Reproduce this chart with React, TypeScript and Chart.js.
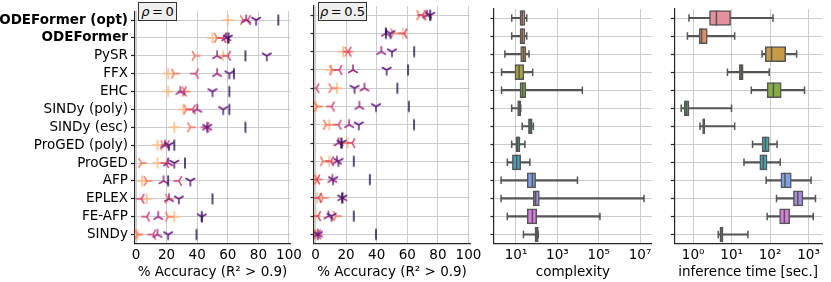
import React, { useEffect, useRef } from "react";
import { Chart, registerables } from "chart.js";
Chart.register(...registerables);

const FONT = "'DejaVu Sans', 'Noto Sans', sans-serif";
const GRID = "#cccccc";
const SPINE = "#262626";
const EDGE = "#555555";

const methods = [
  "ODEFormer (opt)", "ODEFormer", "PySR", "FFX", "EHC", "SINDy (poly)", "SINDy (esc)",
  "ProGED (poly)", "ProGED", "AFP", "EPLEX", "FE-AFP", "SINDy",
];
const accTicks = [0, 20, 40, 60, 80, 100];
const complexityTicks = [1e1, 1e3, 1e5, 1e7];
const timeTicks = [1e0, 1e1, 1e2, 1e3];

// % accuracy, rho = 0 (one array per marker series)
const acc0Plus = [60, 50, 57, 21, 21, 31, 25, 14, 14, 4, 7, 25, 1];
const acc0TriRight = [70, 53, 38.5, 25, 32, 33, 35.5, 18, 3.5, 7, 21, 21, 1];
const acc0TriLeft = [73, 57, 60, 39, 31, 37, 46, 20, 19.5, 28, 3.5, 7, 11];
const acc0TriUp = [72, 59, 53, 53, 29, 40, 46.5, 19, 21, 18, 21.5, 14.5, 14];
const acc0TriDown = [78.5, 60, 85.5, 61, 50, 57, 46.5, 21.5, 25, 35.5, 28, 43, 21];
const acc0Bar = [93, 60.5, 71.5, 64, 61, 61, 71.5, 25, 32, 21, 50, 43, 39.5];

// % accuracy, rho = 0.5
const acc5Plus = [72, 57, 18, 10, 14, 0, 9, 21, 9, 0, 1, 0, 0];
const acc5TriRight = [68, 51, 21, 11, 10.5, 1, 7, 18, 5, 1, 5, 13.5, 1];
const acc5TriLeft = [70, 58, 21.5, 15.5, 0.5, 10.5, 15, 24, 10, 1, 2, 1.5, 1.5];
const acc5TriUp = [73, 46, 43, 24.5, 32, 28.7, 22, 15, 14, 11, 17.5, 8.5, 1.5];
const acc5TriDown = [75, 49, 50, 46.5, 25.5, 39.5, 28.3, 17, 15, 11.5, 17.5, 10.5, 1.5];
const acc5Bar = [75, 46, 64.5, 60.5, 53.5, 61, 64.4, 17, 25, 35.5, 17.5, 25, 39.5];

// complexity box plots
const cxMin = [6.2, 6.2, 2.9, 2.0, 2.0, 6.2, 20, 6.2, 3.8, 1.9, 1.9, 3.8, 23];
const cxQ1 = [15.6, 15.6, 16.8, 8.9, 15.6, 12, 40, 10, 6.7, 35, 69, 35, 83];
const cxMed = [20, 20, 22.7, 14, 21, 14.5, 48, 12, 10.8, 62, 89, 62, 100];
const cxQ3 = [27, 27, 30, 24, 30, 17, 61, 15.6, 16.8, 89, 135, 100, 120];
const cxMax = [33, 33, 42.6, 64, 16200, 17, 69, 27, 47, 9400, 1.55e7, 115000, 120];

// inference time box plots [sec.]
const tMin = [0.78, 0.71, 62, 7.8, 32.5, 0.49, 1.51, 35, 21, 79, 147, 84, 4.5];
const tQ1 = [2.66, 1.43, 75, 15.9, 84, 0.59, 1.76, 62, 54, 191, 405, 177, 4.96];
const tMed = [4.03, 1.66, 109, 17.8, 122, 0.67, 1.9, 76, 66.5, 244, 526, 235, 5.34];
const tQ3 = [9.4, 2.33, 254, 20, 195, 0.78, 2.0, 95, 83.5, 356, 714, 324, 5.98];
const tMax = [119, 12, 490, 95, 785, 9.95, 12, 152, 184, 1165, 1515, 1325, 26.5];

const markerKinds = ["plus", "triRight", "triLeft", "triUp", "triDown", "vline"];
const markerColors = ["#febb81", "#f8765c", "#d3436e", "#982d80", "#5f187f", "#221150"];
const boxColors = [
  "#e3919d", "#da9067", "#c59b47", "#a9a23e", "#86ac44", "#4bae72", "#48ab93",
  "#47a9a4", "#4aa5ba", "#7fa1e2", "#a78ee2", "#d67ddf", "#e07cc0",
];

const SUP = ["⁰", "¹", "²", "³", "⁴", "⁵", "⁶", "⁷", "⁸"];

function makeMarker(kind: string, color: string): HTMLCanvasElement {
  const c = document.createElement("canvas");
  c.width = 16;
  c.height = 16;
  const g = c.getContext("2d")!;
  g.translate(8, 8);
  g.strokeStyle = color;
  g.lineWidth = 1.5;
  const r = 5.5;
  const arms: number[][] = [];
  const s = 0.8660254;
  if (kind === "plus") arms.push([-r, 0, r, 0], [0, -r, 0, r]);
  else if (kind === "vline") arms.push([0, -r, 0, r]);
  else {
    let dirs: number[][] = [];
    if (kind === "triDown") dirs = [[0, 1], [s, -0.5], [-s, -0.5]];
    if (kind === "triUp") dirs = [[0, -1], [s, 0.5], [-s, 0.5]];
    if (kind === "triLeft") dirs = [[-1, 0], [0.5, s], [0.5, -s]];
    if (kind === "triRight") dirs = [[1, 0], [-0.5, s], [-0.5, -s]];
    dirs.forEach((d) => arms.push([0, 0, d[0] * r, d[1] * r]));
  }
  g.beginPath();
  arms.forEach((a) => {
    g.moveTo(a[0], a[1]);
    g.lineTo(a[2], a[3]);
  });
  g.stroke();
  return c;
}

function yAxis(width: number, showLabels: boolean) {
  return {
    type: "category",
    labels: methods,
    offset: true,
    grid: { color: GRID, lineWidth: 1, offset: false, drawTicks: true, tickLength: 3.5, tickColor: SPINE, tickWidth: 1.2 },
    border: { display: true, color: SPINE, width: 1.2 },
    ticks: {
      display: showLabels,
      color: "#000",
      padding: 3,
      autoSkip: false,
      font: (ctx: any) => ({ family: FONT, size: 13.5, weight: ctx.index < 2 ? "bold" : "normal" }),
    },
    afterFit: (s: any) => {
      s.width = width;
    },
  };
}

function xCommon(title: string) {
  return {
    grid: { color: GRID, lineWidth: 1, drawTicks: false },
    border: { display: true, color: SPINE, width: 1.2 },
    title: { display: true, text: title, color: "#000", font: { family: FONT, size: 13.5 }, padding: { top: 0, bottom: 1.5 } },
    afterFit: (s: any) => {
      s.height = 38.5;
    },
  };
}

function accConfig(series: number[][], padL: number, yW: number, padR: number, showLabels: boolean, markers: HTMLCanvasElement[]) {
  return {
    type: "scatter",
    data: {
      datasets: series.map((vals, k) => ({
        data: vals.map((v, i) => ({ x: v, y: methods[i] })),
        pointStyle: markers[k],
        pointRadius: 5,
        pointHoverRadius: 5,
        showLine: false,
        order: 6 - k,
      })),
    },
    options: {
      responsive: false,
      animation: false,
      devicePixelRatio: 1,
      events: [],
      layout: { padding: { left: padL, right: padR, top: 0.5, bottom: 0 } },
      plugins: { legend: { display: false }, tooltip: { enabled: false } },
      scales: {
        x: {
          type: "linear",
          min: -1,
          max: 101,
          bounds: "data",
          afterBuildTicks: (s: any) => {
            s.ticks = accTicks.map((v) => ({ value: v }));
          },
          ticks: { color: "#000", padding: 4, autoSkip: false, maxRotation: 0, font: { family: FONT, size: 13.5 }, callback: (v: any) => String(v) },
          ...xCommon("% Accuracy (R² > 0.9)"),
        },
        y: yAxis(yW, showLabels),
      },
    },
  };
}

function boxConfig(
  mins: number[], q1: number[], med: number[], q3: number[], maxs: number[],
  tickVals: number[], minLog: number, maxLog: number, title: string,
  padL: number, yW: number, padR: number
) {
  const caps = [
    ...mins.map((v, i) => ({ x: v, y: methods[i] })),
    ...maxs.map((v, i) => ({ x: v, y: methods[i] })),
  ];
  return {
    type: "bar",
    data: {
      labels: methods,
      datasets: [
        { type: "bar", data: methods.map((_, i) => [mins[i], maxs[i]]), backgroundColor: EDGE, borderWidth: 0, barThickness: 1.5, grouped: false, order: 4 },
        { type: "bar", data: methods.map((_, i) => [q1[i], q3[i]]), backgroundColor: boxColors, borderColor: EDGE, borderWidth: 1.5, borderSkipped: false, barThickness: 15, grouped: false, order: 3 },
        { type: "scatter", data: methods.map((m, i) => ({ x: med[i], y: m })), pointStyle: "line", pointRotation: 90, pointRadius: 7.5, pointBorderColor: EDGE, pointBorderWidth: 1.5, showLine: false, order: 2 },
        { type: "scatter", data: caps, pointStyle: "line", pointRotation: 90, pointRadius: 3.75, pointBorderColor: EDGE, pointBorderWidth: 1.5, showLine: false, order: 1 },
      ],
    },
    options: {
      indexAxis: "y",
      responsive: false,
      animation: false,
      devicePixelRatio: 1,
      events: [],
      layout: { padding: { left: padL, right: padR, top: 0.5, bottom: 0 } },
      plugins: { legend: { display: false }, tooltip: { enabled: false } },
      scales: {
        x: {
          type: "logarithmic",
          min: Math.pow(10, minLog),
          max: Math.pow(10, maxLog),
          bounds: "data",
          afterBuildTicks: (s: any) => {
            s.ticks = tickVals.map((v) => ({ value: v }));
          },
          ticks: {
            color: "#000", padding: 4, autoSkip: false, maxRotation: 0, font: { family: FONT, size: 13.5 },
            callback: (v: any) => "10" + SUP[Math.round(Math.log10(Number(v)))],
          },
          ...xCommon(title),
        },
        y: yAxis(yW, false),
      },
    },
  };
}

const rhoBox: React.CSSProperties = {
  position: "absolute",
  boxSizing: "border-box",
  background: "#efefef",
  border: "1px solid #333",
  fontFamily: FONT,
  fontSize: 13,
  color: "#000",
  display: "flex",
  alignItems: "center",
  justifyContent: "center",
  whiteSpace: "nowrap",
  wordSpacing: -1.5,
  lineHeight: 1,
};

export default function App() {
  const r1 = useRef<HTMLCanvasElement>(null);
  const r2 = useRef<HTMLCanvasElement>(null);
  const r3 = useRef<HTMLCanvasElement>(null);
  const r4 = useRef<HTMLCanvasElement>(null);

  useEffect(() => {
    const markers = markerKinds.map((k, i) => makeMarker(k, markerColors[i]));
    const charts: Chart[] = [];
    charts.push(new Chart(r1.current!, accConfig(
      [acc0Plus, acc0TriRight, acc0TriLeft, acc0TriUp, acc0TriDown, acc0Bar], 0, 134.5, 831 - 290.5, true, markers) as any));
    charts.push(new Chart(r2.current!, accConfig(
      [acc5Plus, acc5TriRight, acc5TriLeft, acc5TriUp, acc5TriDown, acc5Bar], 300, 14, 831 - 470, false, markers) as any));
    charts.push(new Chart(r3.current!, boxConfig(
      cxMin, cxQ1, cxMed, cxQ3, cxMax, complexityTicks, -0.064, 7.565, "complexity", 480, 14, 831 - 651.7) as any));
    charts.push(new Chart(r4.current!, boxConfig(
      tMin, tQ1, tMed, tQ3, tMax, timeTicks, -0.49, 3.35, "inference time [sec.]", 660, 14.3, 0) as any));
    return () => charts.forEach((c) => c.destroy());
  }, []);

  const cv: React.CSSProperties = { position: "absolute", left: 0, top: 0 };
  return (
    <div style={{ position: "fixed", left: 0, top: 0, width: 831, height: 282, overflow: "hidden", background: "#fff" }}>
      <canvas ref={r1} width={831} height={282} style={cv} />
      <canvas ref={r2} width={831} height={282} style={cv} />
      <canvas ref={r3} width={831} height={282} style={cv} />
      <canvas ref={r4} width={831} height={282} style={cv} />
      <div style={{ ...rhoBox, left: 138, top: 2, width: 39, height: 19 }}>
        <span><i>ρ</i> = 0</span>
      </div>
      <div style={{ ...rhoBox, left: 318, top: 2, width: 49, height: 19 }}>
        <span><i>ρ</i> = 0.5</span>
      </div>
    </div>
  );
}
